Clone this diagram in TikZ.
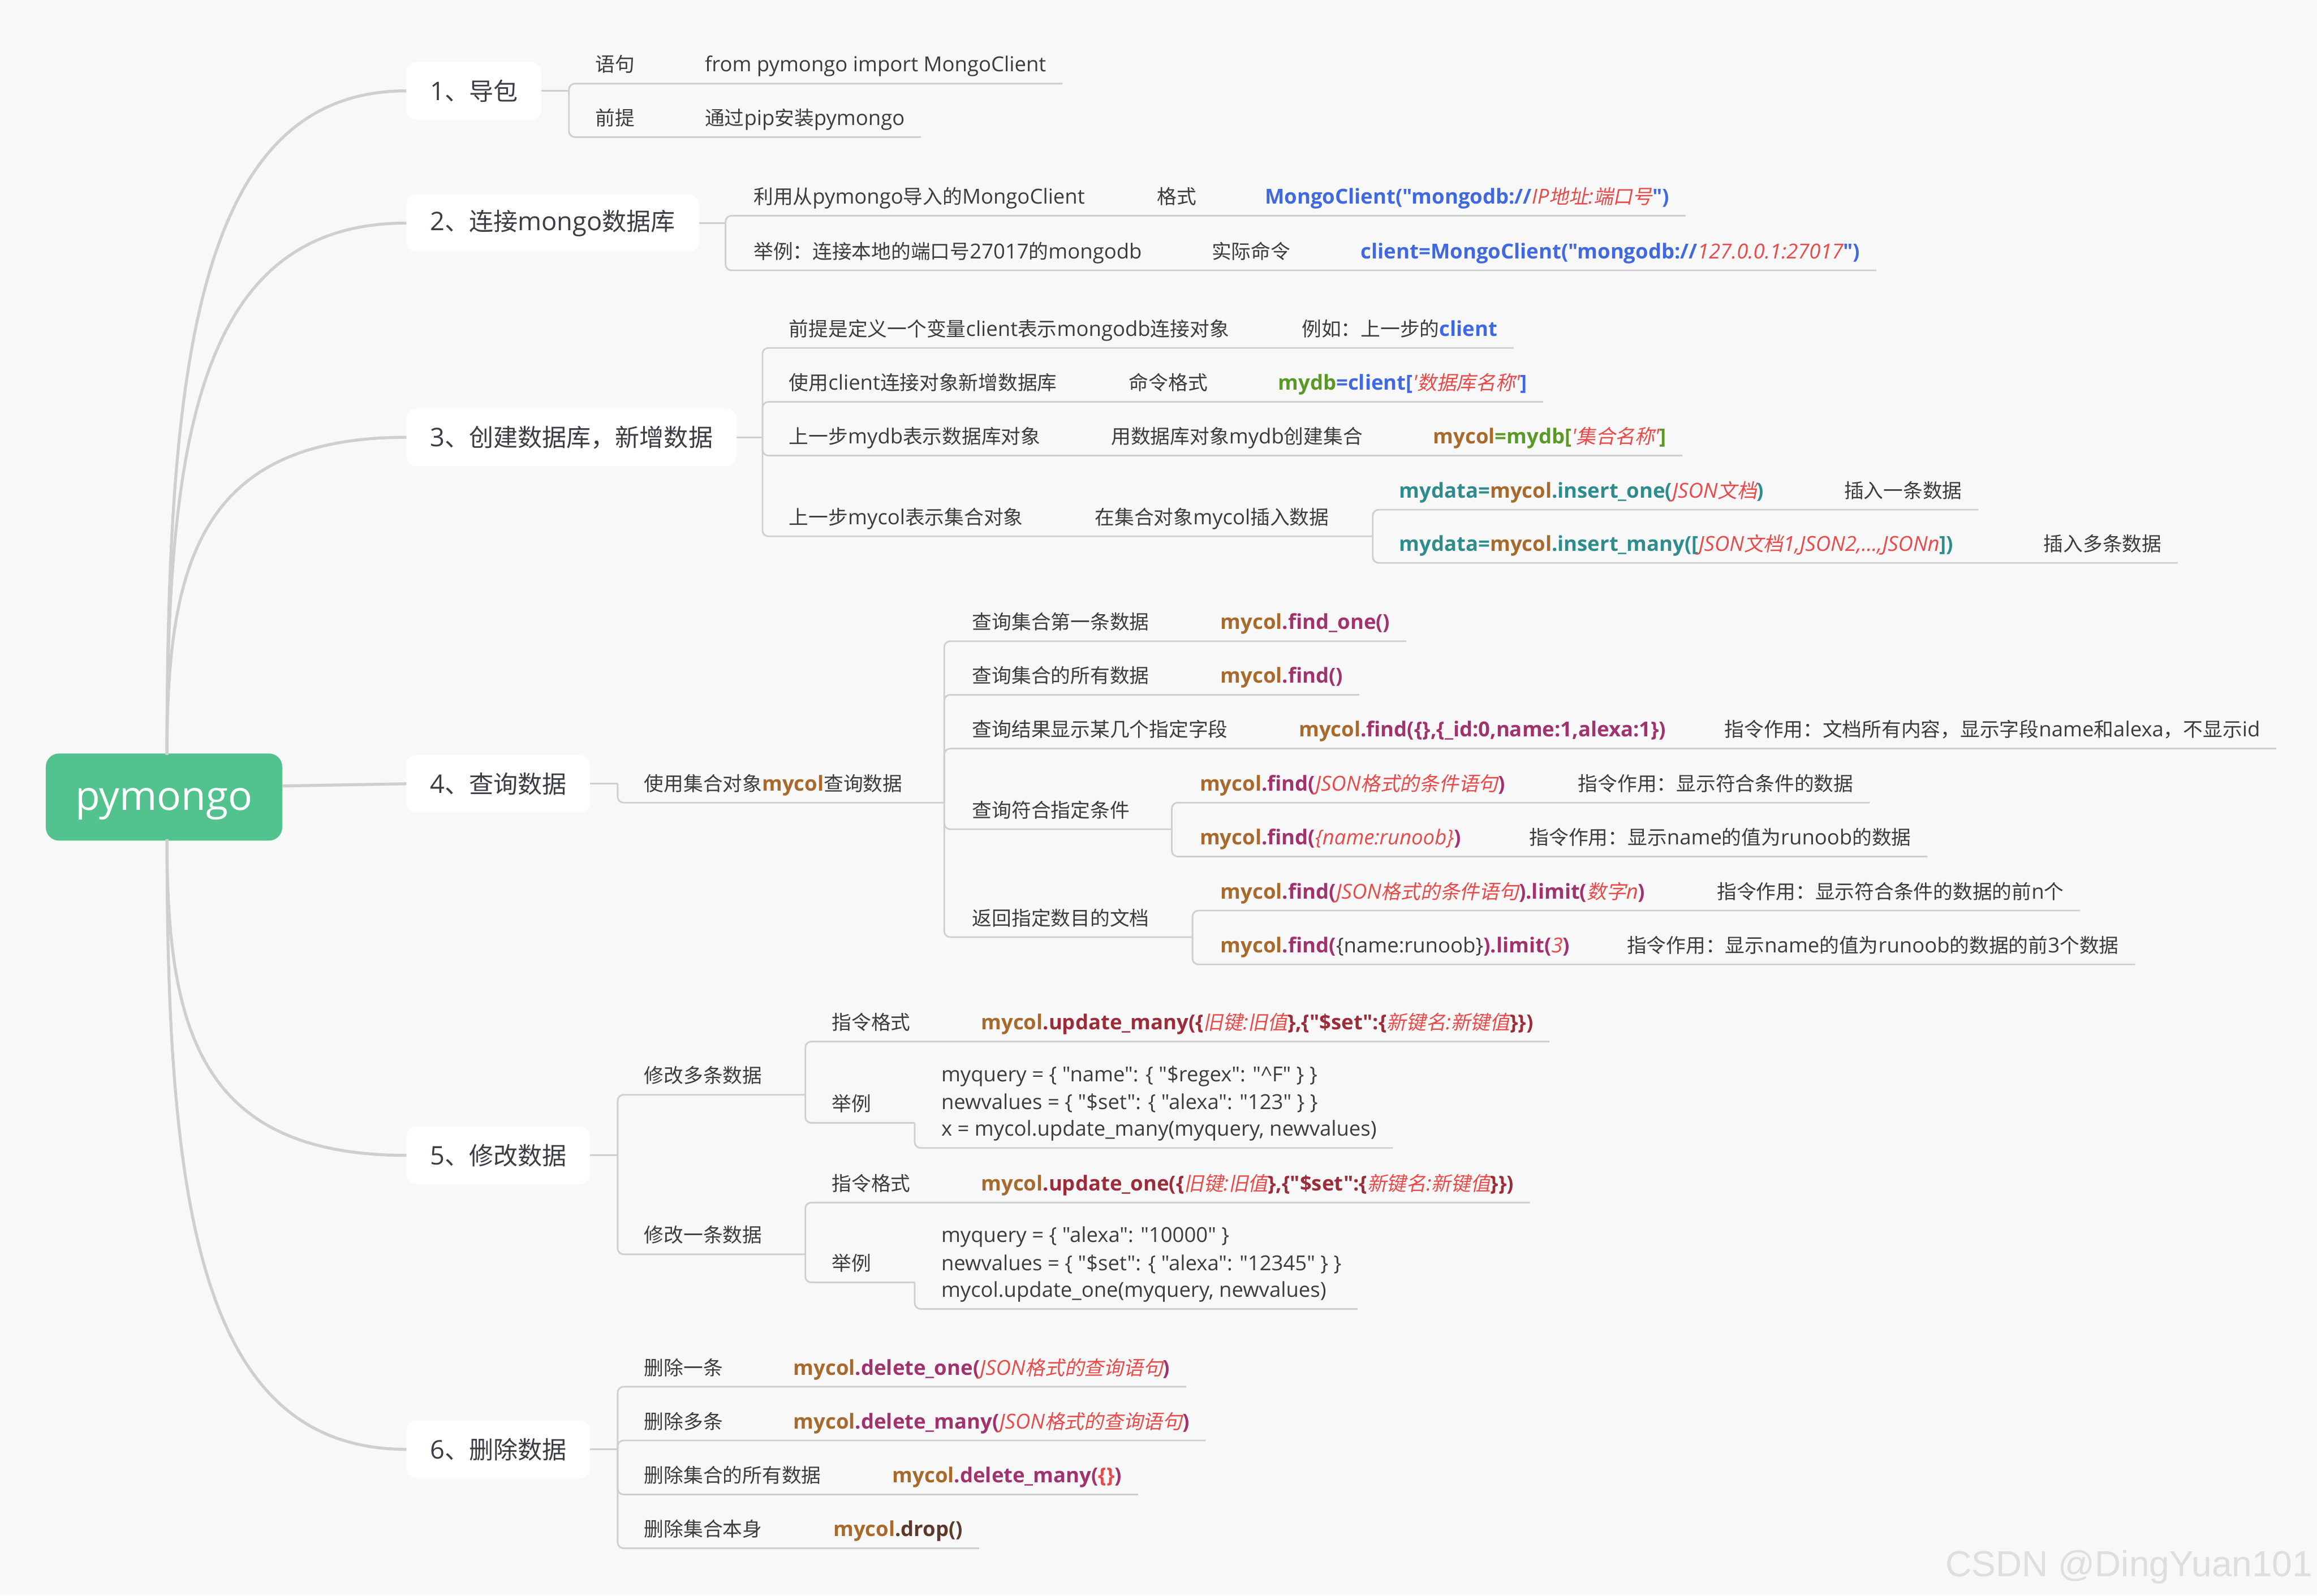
\documentclass[tikz,border=0pt]{standalone}
\usepackage{fontspec}
\usetikzlibrary{calc}
\newfontfamily\latinf{Open Sans}[Scale=1.05]
\newfontfamily\cjkrm{Noto Sans CJK SC}
\newfontfamily\cjkit{Noto Sans CJK SC}[FakeSlant=0.2]
\newfontfamily\wmfont{Liberation Sans}
\newif\ifcjkslant
\newcommand\cjksw{\mdseries\upshape\ifcjkslant\cjkit\else\cjkrm\fi}
\XeTeXinterchartokenstate=1
\newXeTeXintercharclass\cjkclass
\newcount\cjkcnt
\newcommand\setcjkrange[2]{\cjkcnt=#1\relax\loop\XeTeXcharclass\cjkcnt=\cjkclass\relax\advance\cjkcnt by 1\relax\ifnum\cjkcnt<#2\relax\repeat}
\setcjkrange{"4E00}{"A000}
\setcjkrange{"3000}{"3040}
\setcjkrange{"FF00}{"FFF0}
\XeTeXinterchartoks 0 \cjkclass = {\begingroup\cjksw}
\XeTeXinterchartoks 4095 \cjkclass = {\begingroup\cjksw}
\XeTeXinterchartoks \cjkclass 0 = {\endgroup}
\XeTeXinterchartoks \cjkclass 4095 = {\endgroup}

\definecolor{cBg}{RGB}{248,248,248}
\definecolor{cLine}{RGB}{206,207,207}
\definecolor{cText}{RGB}{60,60,60}
\definecolor{cTopic}{RGB}{58,61,68}
\definecolor{cRoot}{RGB}{82,195,142}
\definecolor{cBlue}{RGB}{64,104,224}
\definecolor{cRed}{RGB}{232,74,74}
\definecolor{cGreenT}{RGB}{92,152,40}
\definecolor{cBrown}{RGB}{168,106,44}
\definecolor{cPurple}{RGB}{160,50,110}
\definecolor{cTeal}{RGB}{46,140,140}
\definecolor{cMaroon}{RGB}{155,45,58}
\definecolor{cDark}{RGB}{92,58,42}
\definecolor{cWM}{RGB}{222,222,222}

\newcommand\leaffont{\latinf\fontsize{13.3}{18.5}\selectfont}
\newcommand\topicfont{\latinf\fontsize{16.5}{20}\selectfont}
\newcommand\rootfont{\latinf\fontsize{26}{30}\selectfont}

\newcommand\cB[1]{{\color{cBlue}\bfseries #1}}
\newcommand\cG[1]{{\color{cGreenT}\bfseries #1}}
\newcommand\cM[1]{{\color{cBrown}\bfseries #1}}
\newcommand\cP[1]{{\color{cPurple}\bfseries #1}}
\newcommand\cT[1]{{\color{cTeal}\bfseries #1}}
\newcommand\cD[1]{{\color{cMaroon}\bfseries #1}}
\newcommand\cK[1]{{\color{cDark}\bfseries #1}}
\newcommand\cR[1]{{\color{cRed}\itshape\cjkslanttrue #1}}
\newcommand\cRb[1]{{\color{cRed}\bfseries #1}}

\tikzset{
  every node/.style={inner sep=0pt, outer sep=0pt},
  leaf/.style={anchor=base west, text=cText, font=\leaffont},
  topic/.style={anchor=west, fill=white, rounded corners=7pt, minimum height=39pt, inner xsep=16pt, text=cTopic, font=\topicfont},
  rootnode/.style={fill=cRoot, rounded corners=9pt, minimum width=160pt, minimum height=59pt, text height=18pt, text depth=0pt, text=white, font=\rootfont},
  mainline/.style={draw=cLine, line width=2pt},
  leafline/.style={draw=cLine, line width=1.1pt, rounded corners=4pt},
}
% leaf text: name, x, underline y, text
\newcommand\LF[4]{\node[leaf] (#1) at (#2,{#3-8}) {#4};}
% child line: bracket x, parent y, underline y, last node
\newcommand\LL[4]{\draw[leafline] (#1,#2) -- (#1,#3) -- ($(#4.base east)+(11,8)$);}
% child line to a sub bracket: bracket x, parent y, underline y, sub bracket x
\newcommand\LB[4]{\draw[leafline] (#1,#2) -- (#1,#3) -- (#4,#3);}
\newcommand\upcurve[2]{\draw[mainline] (rtop) .. controls (113,{#2+0.4*(511-#2)}) and (135,#2) .. (#1.west);}
\newcommand\downcurve[2]{\draw[mainline] (rbot) .. controls (113,{#2-0.4*(#2-568)}) and (135,#2) .. (#1.west);}

\begin{document}
\begin{tikzpicture}[x=1pt,y=-1pt]
\fill[cBg] (0,0) rectangle (1568,1080);
\useasboundingbox (0,0) rectangle (1568,1080);

% root and topics
\node[rootnode] (root) at (111,539.5) {pymongo};
\coordinate (rtop) at (113,511);
\coordinate (rbot) at (113,568);
\coordinate (rright) at (191,532);
\node[topic] (t1) at (275,61.5) {1、导包};
\node[topic] (t2) at (275,151) {2、连接mongo数据库};
\node[topic] (t3) at (275,296) {3、创建数据库，新增数据};
\node[topic] (t4) at (275,530.5) {4、查询数据};
\node[topic] (t5) at (275,782) {5、修改数据};
\node[topic] (t6) at (275,981) {6、删除数据};
\upcurve{t1}{61.5}
\upcurve{t2}{151}
\upcurve{t3}{296}
\draw[mainline] (rright) -- (t4.west);
\downcurve{t5}{782}
\downcurve{t6}{981}

% ---- 1
\draw[leafline] (t1.east) -- (385,61.5);
\LF{a1}{403}{56.6}{语句}
\LF{a1x}{477}{56.6}{from pymongo import MongoClient}
\LF{a2}{403}{92.8}{前提}
\LF{a2x}{477}{92.8}{通过pip安装pymongo}
\LL{385}{61.5}{56.6}{a1x}
\LL{385}{61.5}{92.8}{a2x}

% ---- 2
\draw[leafline] (t2.east) -- (491,151);
\LF{b1}{510}{146}{利用从pymongo导入的MongoClient}
\LF{b1x}{783}{146}{格式}
\LF{b1y}{856}{146}{\cB{MongoClient("mongodb://}\cR{IP地址:端口号}\cB{")}}
\LF{b2}{510}{183}{举例：连接本地的端口号27017的mongodb}
\LF{b2x}{820}{183}{实际命令}
\LF{b2y}{921}{183}{\cB{client=MongoClient("mongodb://}\cR{127.0.0.1:27017}\cB{")}}
\LL{491}{151}{146}{b1y}
\LL{491}{151}{183}{b2y}

% ---- 3
\draw[leafline] (t3.east) -- (516,296);
\LF{c1}{534}{235.5}{前提是定义一个变量client表示mongodb连接对象}
\LF{c1x}{881}{235.5}{例如：上一步的\cB{client}}
\LF{c2}{534}{272}{使用client连接对象新增数据库}
\LF{c2x}{764}{272}{命令格式}
\LF{c2y}{865}{272}{\cG{mydb}\cB{=client[}\cR{'数据库名称'}\cB{]}}
\LF{c3}{534}{308.4}{上一步mydb表示数据库对象}
\LF{c3x}{752}{308.4}{用数据库对象mydb创建集合}
\LF{c3y}{970}{308.4}{\cM{mycol}\cG{=mydb[}\cR{'集合名称'}\cG{]}}
\LF{c4}{534}{363}{上一步mycol表示集合对象}
\LF{c4x}{741}{363}{在集合对象mycol插入数据}
\LF{c5}{947}{345}{\cT{mydata=}\cM{mycol}\cT{.insert\_one(}\cR{JSON文档}\cT{)}}
\LF{c5x}{1248}{345}{插入一条数据}
\LF{c6}{947}{381}{\cT{mydata=}\cM{mycol}\cT{.insert\_many([}\cR{JSON文档1,JSON2,...,JSONn}\cT{])}}
\LF{c6x}{1383}{381}{插入多条数据}
\LL{516}{296}{235.5}{c1x}
\LL{516}{296}{272}{c2y}
\LL{516}{296}{308.4}{c3y}
\LB{516}{296}{363}{929}
\LL{929}{363}{345}{c5x}
\LL{929}{363}{381}{c6x}

% ---- 4
\draw[leafline] (t4.east) -- (418,530.5);
\LF{d0}{436}{543.3}{使用集合对象\cM{mycol}查询数据}
\LB{418}{530.5}{543.3}{639}
\LF{d1}{658}{434}{查询集合第一条数据}
\LF{d1x}{826}{434}{\cM{mycol}\cP{.find\_one()}}
\LF{d2}{658}{470.3}{查询集合的所有数据}
\LF{d2x}{826}{470.3}{\cM{mycol}\cP{.find()}}
\LF{d3}{658}{506.7}{查询结果显示某几个指定字段}
\LF{d3x}{879}{506.7}{\cM{mycol}\cP{.find(\{\},\{\_id:0,name:1,alexa:1\})}}
\LF{d3y}{1167}{506.7}{指令作用：文档所有内容，显示字段name和alexa，不显示id}
\LF{d4}{658}{561.3}{查询符合指定条件}
\LF{d41}{812}{543.3}{\cM{mycol}\cP{.find(}\cR{JSON格式的条件语句}\cP{)}}
\LF{d41x}{1068}{543.3}{指令作用：显示符合条件的数据}
\LF{d42}{812}{579.8}{\cM{mycol}\cP{.find(}\cR{\{name:runoob\}}\cP{)}}
\LF{d42x}{1035}{579.8}{指令作用：显示name的值为runoob的数据}
\LF{d5}{658}{634.3}{返回指定数目的文档}
\LF{d51}{826}{616.3}{\cM{mycol}\cP{.find(}\cR{JSON格式的条件语句}\cP{).limit(}\cR{数字n}\cP{)}}
\LF{d51x}{1162}{616.3}{指令作用：显示符合条件的数据的前n个}
\LF{d52}{826}{652.8}{\cM{mycol}\cP{.find(}\{name:runoob\}\cP{).limit(}\cR{3}\cP{)}}
\LF{d52x}{1101}{652.8}{指令作用：显示name的值为runoob的数据的前3个数据}
\LL{639}{543.3}{434}{d1x}
\LL{639}{543.3}{470.3}{d2x}
\LL{639}{543.3}{506.7}{d3y}
\LB{639}{543.3}{561.3}{793}
\LB{639}{543.3}{634.3}{807}
\LL{793}{561.3}{543.3}{d41x}
\LL{793}{561.3}{579.8}{d42x}
\LL{807}{634.3}{616.3}{d51x}
\LL{807}{634.3}{652.8}{d52x}

% ---- 5
\draw[leafline] (t5.east) -- (418,782);
\LF{e1}{436}{741}{修改多条数据}
\LB{418}{782}{741}{545}
\LF{e11}{563}{705}{指令格式}
\LF{e11x}{664}{705}{\cM{mycol}\cD{.update\_many(\{}\cR{旧键:旧值}\cD{\},\{"\$set":\{}\cR{新键名:新键值}\cD{\}\})}}
\LL{545}{741}{705}{e11x}
\LF{e12}{563}{760}{举例}
\LB{545}{741}{760}{619}
\LF{e12a}{637}{740}{myquery = \{ "name": \{ "\$regex": "\textasciicircum F" \} \}}
\LF{e12b}{637}{759}{newvalues = \{ "\$set": \{ "alexa": "123" \} \}}
\LF{e12c}{637}{777}{x = mycol.update\_many(myquery, newvalues)}
\LL{619}{760}{777}{e12c}
\LF{e2}{436}{849}{修改一条数据}
\LB{418}{782}{849}{545}
\LF{e21}{563}{814}{指令格式}
\LF{e21x}{664}{814}{\cM{mycol}\cD{.update\_one(\{}\cR{旧键:旧值}\cD{\},\{"\$set":\{}\cR{新键名:新键值}\cD{\}\})}}
\LL{545}{849}{814}{e21x}
\LF{e22}{563}{868}{举例}
\LB{545}{849}{868}{619}
\LF{e22a}{637}{849}{myquery = \{ "alexa": "10000" \}}
\LF{e22b}{637}{868}{newvalues = \{ "\$set": \{ "alexa": "12345" \} \}}
\LF{e22c}{637}{886}{mycol.update\_one(myquery, newvalues)}
\draw[leafline] (619,868) -- (619,886) -- ($(e22b.east |- e22c.base)+(11,8)$);

% ---- 6
\draw[leafline] (t6.east) -- (418,981);
\LF{f1}{436}{938.6}{删除一条}
\LF{f1x}{537}{938.6}{\cM{mycol}\cP{.delete\_one(}\cR{JSON格式的查询语句}\cP{)}}
\LF{f2}{436}{975}{删除多条}
\LF{f2x}{537}{975}{\cM{mycol}\cP{.delete\_many(}\cR{JSON格式的查询语句}\cP{)}}
\LF{f3}{436}{1011.6}{删除集合的所有数据}
\LF{f3x}{604}{1011.6}{\cM{mycol}\cP{.delete\_many(}\cRb{\{\}}\cP{)}}
\LF{f4}{436}{1048}{删除集合本身}
\LF{f4x}{564}{1048}{\cM{mycol}\cK{.drop()}}
\LL{418}{981}{938.6}{f1x}
\LL{418}{981}{975}{f2x}
\LL{418}{981}{1011.6}{f3x}
\LL{418}{981}{1048}{f4x}

% watermark
\node[anchor=base east, font=\wmfont\fontsize{24.5}{26}\selectfont, text=cWM] (wm) at (1565,1067) {CSDN @DingYuan101};
\end{tikzpicture}
\end{document}
